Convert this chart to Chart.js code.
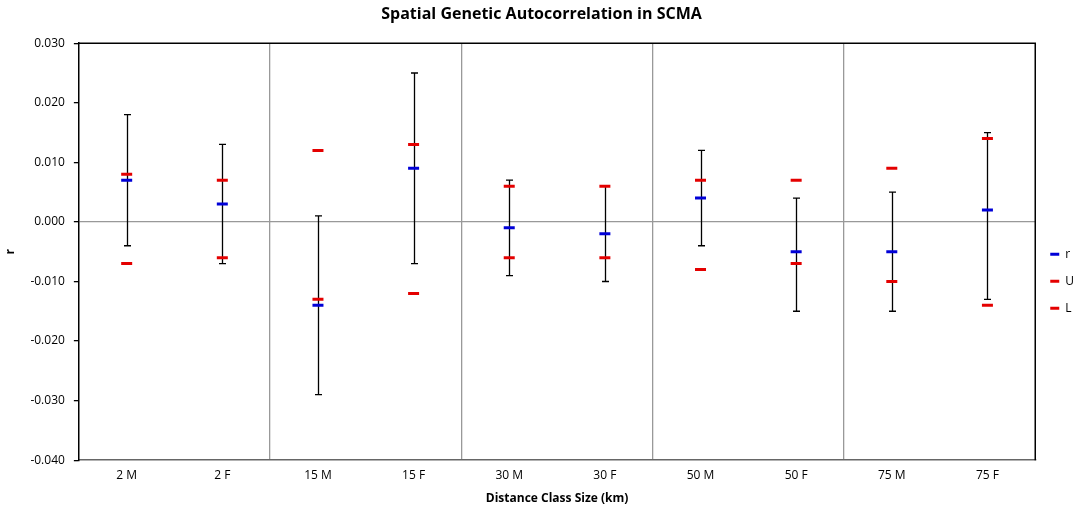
<!DOCTYPE html>
<html>
<head>
<meta charset="utf-8">
<script src="https://cdn.jsdelivr.net/npm/chart.js@4.4.1/dist/chart.umd.min.js"></script>
<style>
html,body{margin:0;padding:0;background:#fff;}
#wrap{width:1080px;height:512px;}
</style>
</head>
<body>
<div id="wrap"><canvas id="c" width="1080" height="512"></canvas></div>
<script>
const categories = ['2 M','2 F','15 M','15 F','30 M','30 F','50 M','50 F','75 M','75 F'];
const rValues = [0.007, 0.003, -0.014, 0.009, -0.001, -0.002, 0.004, -0.005, -0.005, 0.002];
const uValues = [0.008, 0.007, 0.012, 0.013, 0.006, 0.006, 0.007, 0.007, 0.009, 0.014];
const lValues = [-0.007, -0.006, -0.013, -0.012, -0.006, -0.006, -0.008, -0.007, -0.010, -0.014];
const errHigh = [0.018, 0.013, 0.001, 0.025, 0.007, 0.006, 0.012, 0.004, 0.005, 0.015];
const errLow = [-0.004, -0.007, -0.029, -0.007, -0.009, -0.010, -0.004, -0.015, -0.015, -0.013];
const yTicks = [-0.04, -0.03, -0.02, -0.01, 0, 0.01, 0.02, 0.03];

const FONT = "'Open Sans', sans-serif";
const BLUE = 'rgb(0,0,215)';
const RED = 'rgb(228,0,0)';

const errorBars = {
  id: 'errorBars',
  beforeDatasetsDraw(chart) {
    const ctx = chart.ctx, xs = chart.scales.x, ys = chart.scales.y;
    ctx.save();
    ctx.strokeStyle = '#000';
    ctx.lineWidth = 1.3;
    categories.forEach((c, i) => {
      const x = Math.round(xs.getPixelForValue(i)) + 0.5;
      const y1 = ys.getPixelForValue(errHigh[i]);
      const y2 = ys.getPixelForValue(errLow[i]);
      ctx.beginPath();
      ctx.moveTo(x, y1); ctx.lineTo(x, y2);
      ctx.moveTo(x - 3.5, y1); ctx.lineTo(x + 3.5, y1);
      ctx.moveTo(x - 3.5, y2); ctx.lineTo(x + 3.5, y2);
      ctx.stroke();
    });
    ctx.restore();
  },
  afterDraw(chart) {
    const a = chart.chartArea, ctx = chart.ctx;
    ctx.save();
    ctx.strokeStyle = '#000';
    ctx.lineWidth = 1.5;
    ctx.beginPath();
    ctx.moveTo(a.left, a.top); ctx.lineTo(a.right, a.top); ctx.lineTo(a.right, a.bottom);
    ctx.stroke();
    ctx.restore();
  }
};

const mk = (label, data, color) => ({
  label, data,
  borderColor: color, backgroundColor: color,
  showLine: false,
  pointStyle: 'line', pointRadius: 5.5, pointHoverRadius: 5.5,
  pointBorderWidth: 3, borderWidth: 3
});

new Chart(document.getElementById('c'), {
  type: 'line',
  data: {
    labels: categories,
    datasets: [mk('r', rValues, BLUE), mk('U', uValues, RED), mk('L', lValues, RED)]
  },
  options: {
    responsive: false,
    animation: false,
    layout: { padding: { left: -1, right: -4, top: 0, bottom: 2 } },
    plugins: {
      title: {
        display: true, text: 'Spatial Genetic Autocorrelation in SCMA',
        color: '#000', font: { family: FONT, size: 16, weight: 'bold' },
        padding: { top: 5, bottom: 19 }
      },
      legend: {
        position: 'right', align: 'center',
        title: { display: true, text: ' ', font: { size: 2 }, padding: { top: 50, bottom: 0 } },
        labels: {
          usePointStyle: true, pointStyle: 'line', pointStyleWidth: 9,
          boxWidth: 9, boxHeight: 9, padding: 15,
          color: '#000', font: { family: FONT, size: 12 }
        }
      },
      tooltip: { enabled: false }
    },
    scales: {
      x: {
        offset: true,
        grid: {
          offset: true, drawTicks: false,
          color: ctx => (ctx.index % 2 === 0 && ctx.index > 0 && ctx.index < categories.length) ? '#999' : 'transparent',
          lineWidth: 1.3
        },
        border: { color: '#666', width: 1.5 },
        ticks: { color: '#000', font: { family: FONT, size: 12 }, padding: 8 },
        title: { display: true, text: 'Distance Class Size (km)', color: '#000', font: { family: FONT, size: 12, weight: 'bold' }, padding: { top: 1 } }
      },
      y: {
        min: yTicks[0], max: yTicks[yTicks.length - 1],
        afterBuildTicks: s => { s.ticks = yTicks.map(v => ({ value: v })); },
        grid: {
          color: ctx => (ctx.tick && Math.abs(ctx.tick.value) < 1e-9) ? '#999' : 'transparent',
          tickColor: '#000', tickLength: 5, lineWidth: 1.3
        },
        border: { color: '#000', width: 1.5 },
        ticks: {
          color: '#000', font: { family: FONT, size: 12 }, padding: 9,
          callback: v => Math.abs(v) < 1e-9 ? '0.000' : Number(v).toFixed(3)
        },
        title: { display: true, text: 'r', color: '#000', font: { family: FONT, size: 12, weight: 'bold' }, padding: { bottom: 4 } }
      }
    }
  },
  plugins: [errorBars]
});
</script>
</body>
</html>
